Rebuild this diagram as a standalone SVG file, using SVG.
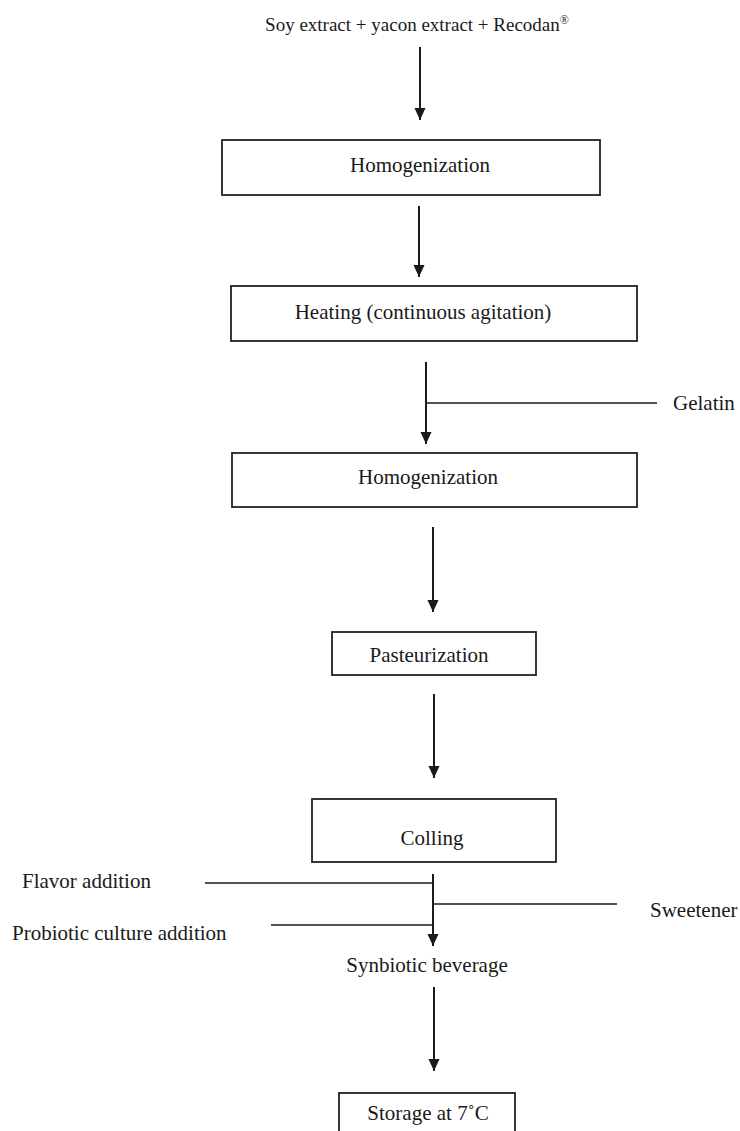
<svg xmlns="http://www.w3.org/2000/svg" width="740" height="1131" viewBox="0 0 740 1131">
<style>
  .box { fill: #ffffff; stroke: #222222; stroke-width: 1.8; }
  .t { font-family: "Liberation Serif", "Times New Roman", serif; font-size: 21px; fill: #1a1a1a; }
  .top { font-size: 19px; }
  .c { text-anchor: middle; }
  .arr { stroke: #1a1a1a; stroke-width: 2; fill: none; marker-end: url(#ah); }
  .feed { stroke: #1a1a1a; stroke-width: 1.5; fill: none; }
</style>
<defs>
  <marker id="ah" markerUnits="userSpaceOnUse" markerWidth="12" markerHeight="13" refX="13" refY="6" orient="auto" viewBox="0 0 13 12">
    <path d="M0,0 L13,6 L0,12 z" fill="#1a1a1a"/>
  </marker>
</defs>
<rect width="740" height="1131" fill="#ffffff"/>

<g id="input">
  <text class="t top c" x="417" y="31">Soy extract + yacon extract + Recodan<tspan font-size="12" dy="-7">®</tspan></text>
</g>
<g id="homogenization1">
  <rect class="box" x="222" y="140" width="378" height="55"/>
  <text class="t c" x="420" y="172">Homogenization</text>
</g>
<g id="heating">
  <rect class="box" x="231" y="286" width="406" height="55"/>
  <text class="t c" x="423" y="319">Heating (continuous agitation)</text>
</g>
<g id="gelatin">
  <text class="t" x="673" y="410">Gelatin</text>
</g>
<g id="homogenization2">
  <rect class="box" x="232" y="453" width="405" height="54"/>
  <text class="t c" x="428" y="484">Homogenization</text>
</g>
<g id="pasteurization">
  <rect class="box" x="332" y="632" width="204" height="43"/>
  <text class="t c" x="429" y="662">Pasteurization</text>
</g>
<g id="colling">
  <rect class="box" x="312" y="799" width="244" height="63"/>
  <text class="t c" x="432" y="845">Colling</text>
</g>
<g id="flavor">
  <text class="t" x="22" y="888">Flavor addition</text>
</g>
<g id="sweetener">
  <text class="t" x="650" y="917">Sweetener</text>
</g>
<g id="probiotic">
  <text class="t" x="12" y="940">Probiotic culture addition</text>
</g>
<g id="synbiotic">
  <text class="t c" x="427" y="972">Synbiotic beverage</text>
</g>
<g id="storage">
  <rect class="box" x="339" y="1093" width="176" height="50"/>
  <text class="t c" x="428" y="1120">Storage at 7˚C</text>
</g>

<g id="connectors">
  <line class="arr" x1="420" y1="47" x2="420" y2="120"/>
  <line class="arr" x1="419" y1="206" x2="419" y2="277"/>
  <line class="arr" x1="426" y1="362" x2="426" y2="444"/>
  <line class="feed" x1="427" y1="403" x2="657" y2="403"/>
  <line class="arr" x1="433" y1="527" x2="433" y2="612"/>
  <line class="arr" x1="434" y1="694" x2="434" y2="778"/>
  <line class="arr" x1="433" y1="874" x2="433" y2="946"/>
  <line class="feed" x1="205" y1="883" x2="433" y2="883"/>
  <line class="feed" x1="433" y1="904" x2="617" y2="904"/>
  <line class="feed" x1="271" y1="925" x2="433" y2="925"/>
  <line class="arr" x1="434" y1="987" x2="434" y2="1071"/>
</g>
</svg>
